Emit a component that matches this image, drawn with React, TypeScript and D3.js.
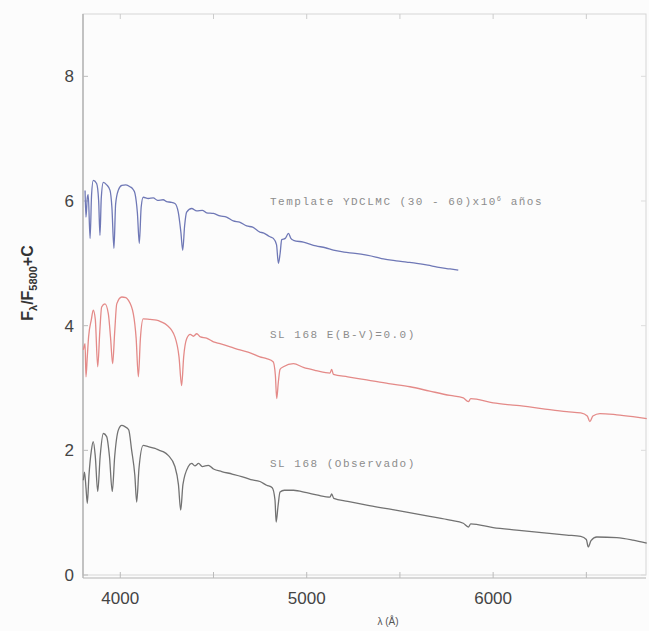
import React from "react";
import * as d3 from "d3";

// Spectra as [wavelength (Å), F_λ/F_5800 + C]
const templateYD: [number, number][] = [
  [3811, 6.17], [3816, 5.74], [3823, 6.05], [3828, 6.1], [3838, 5.4], [3846, 6.1],
  [3855, 6.33], [3873, 6.28], [3884, 6.0], [3891, 5.45], [3898, 6.05], [3909, 6.3],
  [3927, 6.26], [3945, 6.17], [3955, 5.9], [3966, 5.24], [3975, 5.95], [3989, 6.17],
  [4008, 6.25], [4030, 6.26], [4052, 6.23], [4070, 6.18], [4079, 6.12], [4092, 5.8],
  [4102, 5.32], [4112, 5.9], [4123, 6.06], [4150, 6.04], [4177, 6.05], [4200, 6.01],
  [4230, 6.02], [4249, 5.99], [4270, 5.98], [4293, 5.96], [4311, 5.82], [4325, 5.5],
  [4335, 5.21], [4345, 5.6], [4356, 5.82], [4383, 5.88], [4410, 5.84], [4440, 5.85],
  [4463, 5.81], [4500, 5.8], [4535, 5.76], [4570, 5.74], [4606, 5.68], [4640, 5.66],
  [4678, 5.6], [4710, 5.58], [4749, 5.5], [4767, 5.49], [4800, 5.43], [4821, 5.4],
  [4838, 5.3], [4848, 5.0], [4857, 5.15], [4866, 5.38], [4885, 5.4], [4902, 5.48],
  [4915, 5.4], [4929, 5.37], [4982, 5.34], [5050, 5.28], [5100, 5.25], [5143, 5.21],
  [5200, 5.18], [5260, 5.16], [5322, 5.13], [5370, 5.1], [5411, 5.07], [5480, 5.04],
  [5536, 5.02], [5590, 5.0], [5650, 4.97], [5700, 4.94], [5769, 4.91], [5813, 4.89],
];

const sl168Dereddened: [number, number][] = [
  [3802, 3.61], [3811, 3.71], [3816, 3.18], [3823, 3.5], [3830, 3.82], [3845, 4.1],
  [3855, 4.25], [3866, 4.1], [3879, 3.34], [3890, 3.9], [3900, 4.3], [3918, 4.35],
  [3936, 4.19], [3948, 3.8], [3959, 3.39], [3970, 3.9], [3981, 4.35], [4008, 4.46],
  [4030, 4.45], [4043, 4.41], [4070, 4.19], [4085, 3.8], [4097, 3.18], [4108, 3.8],
  [4123, 4.11], [4160, 4.1], [4194, 4.09], [4220, 4.06], [4249, 4.01], [4293, 3.82],
  [4315, 3.5], [4329, 3.04], [4340, 3.5], [4356, 3.79], [4375, 3.86], [4392, 3.83],
  [4410, 3.87], [4430, 3.82], [4463, 3.8], [4500, 3.74], [4535, 3.71], [4590, 3.66],
  [4642, 3.61], [4700, 3.56], [4749, 3.5], [4785, 3.47], [4820, 3.42], [4832, 3.2],
  [4839, 2.83], [4848, 3.1], [4857, 3.3], [4875, 3.34], [4929, 3.39], [4982, 3.33],
  [5050, 3.28], [5125, 3.24], [5134, 3.3], [5143, 3.22], [5220, 3.18], [5322, 3.13],
  [5440, 3.07], [5554, 3.02], [5660, 2.95], [5769, 2.88], [5840, 2.84], [5867, 2.78],
  [5880, 2.83], [6000, 2.76], [6126, 2.72], [6260, 2.67], [6395, 2.62], [6470, 2.6],
  [6505, 2.55], [6519, 2.46], [6535, 2.55], [6573, 2.59], [6663, 2.57], [6750, 2.54],
  [6824, 2.51],
];

const sl168Observed: [number, number][] = [
  [3802, 1.52], [3808, 1.65], [3816, 1.4], [3823, 1.15], [3832, 1.6], [3845, 2.0],
  [3855, 2.14], [3866, 1.9], [3879, 1.34], [3892, 1.9], [3909, 2.27], [3927, 2.22],
  [3942, 1.9], [3957, 1.34], [3970, 1.9], [3989, 2.32], [4008, 2.4], [4025, 2.38],
  [4045, 2.33], [4061, 2.0], [4078, 1.6], [4088, 1.17], [4100, 1.7], [4123, 2.08],
  [4150, 2.06], [4186, 2.03], [4210, 2.0], [4230, 1.98], [4257, 1.92], [4293, 1.74],
  [4312, 1.45], [4324, 1.04], [4336, 1.45], [4365, 1.74], [4383, 1.79], [4400, 1.75],
  [4420, 1.79], [4440, 1.74], [4472, 1.76], [4500, 1.7], [4544, 1.66], [4600, 1.62],
  [4651, 1.58], [4700, 1.53], [4749, 1.5], [4785, 1.44], [4815, 1.4], [4830, 1.2],
  [4836, 0.85], [4846, 1.1], [4857, 1.33], [4880, 1.36], [4929, 1.36], [5000, 1.32],
  [5060, 1.28], [5125, 1.25], [5134, 1.3], [5145, 1.23], [5220, 1.18], [5322, 1.12],
  [5440, 1.06], [5536, 1.01], [5660, 0.94], [5769, 0.88], [5840, 0.83], [5867, 0.77],
  [5880, 0.82], [6000, 0.76], [6126, 0.72], [6260, 0.68], [6395, 0.64], [6470, 0.62],
  [6500, 0.57], [6510, 0.45], [6525, 0.55], [6556, 0.61], [6663, 0.6], [6750, 0.56],
  [6824, 0.51],
];

const xTickValues = [4000, 5000, 6000];
const xMinorTicks = [4000, 4500, 5000, 5500, 6000, 6500];
const yTickValues = [0, 2, 4, 6, 8];

const seriesLabels = [
  { text: "Template YDCLMC (30 - 60)x10", sup: "6", tail: " años", y: 6.0 },
  { text: "SL 168 E(B-V)=0.0)", sup: "", tail: "", y: 3.86 },
  { text: "SL 168 (Observado)", sup: "", tail: "", y: 1.8 },
];

const W = 649;
const H = 631;
const plot = { left: 83, right: 646, top: 14, bottom: 575 };

export default function App() {
  const x = d3.scaleLinear().domain([3800, 6820]).range([plot.left, plot.right]);
  const y = d3.scaleLinear().domain([0, 9]).range([plot.bottom, plot.top]);
  const line = d3
    .line<[number, number]>()
    .x((d) => x(d[0]))
    .y((d) => y(d[1]))
    .curve(d3.curveMonotoneX);

  const series = [
    { data: templateYD, color: "#6f78b6" },
    { data: sl168Dereddened, color: "#e48a88" },
    { data: sl168Observed, color: "#727272" },
  ];

  return (
    <svg
      width={W}
      height={H}
      style={{ position: "absolute", left: 0, top: 0, background: "#fcfcfc" }}
    >
      {/* frame */}
      <rect
        x={plot.left}
        y={plot.top}
        width={plot.right - plot.left}
        height={plot.bottom - plot.top}
        fill="none"
        stroke="#d6d6d6"
        strokeWidth={1}
      />
      <line x1={plot.left} x2={plot.left} y1={plot.top} y2={plot.bottom + 3} stroke="#a8a8a8" strokeWidth={1.2} />
      <line x1={plot.left} x2={plot.right} y1={plot.bottom + 3} y2={plot.bottom + 3} stroke="#b4b4b4" strokeWidth={1.2} />

      {/* ticks */}
      {xMinorTicks.map((t) => (
        <g key={"xt" + t}>
          <line x1={x(t)} x2={x(t)} y1={plot.bottom + 3} y2={plot.bottom - 3} stroke="#bbb" />
          <line x1={x(t)} x2={x(t)} y1={plot.top} y2={plot.top + 5} stroke="#ccc" />
        </g>
      ))}
      {yTickValues.map((t) => (
        <g key={"yt" + t}>
          <line x1={plot.left} x2={plot.left + 5} y1={y(t)} y2={y(t)} stroke="#bbb" />
          <line x1={plot.right} x2={plot.right - 5} y1={y(t)} y2={y(t)} stroke="#ddd" />
          <text
            x={74}
            y={y(t)}
            dy="0.36em"
            textAnchor="end"
            fontFamily="Liberation Sans, Arial, sans-serif"
            fontSize={17}
            fill="#444"
          >
            {t}
          </text>
        </g>
      ))}
      {xTickValues.map((t) => (
        <text
          key={"xl" + t}
          x={x(t)}
          y={604}
          textAnchor="middle"
          fontFamily="Liberation Sans, Arial, sans-serif"
          fontSize={17}
          fill="#444"
        >
          {t}
        </text>
      ))}

      {/* axis titles */}
      <text
        x={388}
        y={625}
        textAnchor="middle"
        fontFamily="Liberation Sans, Arial, sans-serif"
        fontSize={10}
        fill="#555"
      >
        λ (Å)
      </text>
      <text
        transform={`translate(33, ${283}) rotate(-90)`}
        textAnchor="middle"
        fontFamily="Liberation Sans, Arial, sans-serif"
        fontSize={16}
        fontWeight="bold"
        fill="#333"
      >
        F
        <tspan fontSize={11} dy={4}>λ</tspan>
        <tspan dy={-4}>/F</tspan>
        <tspan fontSize={11} dy={4}>5800</tspan>
        <tspan dy={-4}>+C</tspan>
      </text>

      {/* spectra */}
      {series.map((s, i) => (
        <path
          key={"s" + i}
          d={line(s.data) ?? ""}
          fill="none"
          stroke={s.color}
          strokeWidth={1.3}
          strokeLinejoin="round"
        />
      ))}

      {/* series labels */}
      {seriesLabels.map((l, i) => (
        <text
          key={"lab" + i}
          x={270}
          y={y(l.y)}
          dy="0.35em"
          fontFamily="Liberation Mono, Courier New, monospace"
          fontSize={11}
          letterSpacing={1.5}
          fill="#8c8c8c"
        >
          {l.text}
          {l.sup && (
            <tspan fontSize={7} dy={-4}>
              {l.sup}
            </tspan>
          )}
          {l.tail && <tspan dy={l.sup ? 4 : 0}>{l.tail}</tspan>}
        </text>
      ))}
    </svg>
  );
}
